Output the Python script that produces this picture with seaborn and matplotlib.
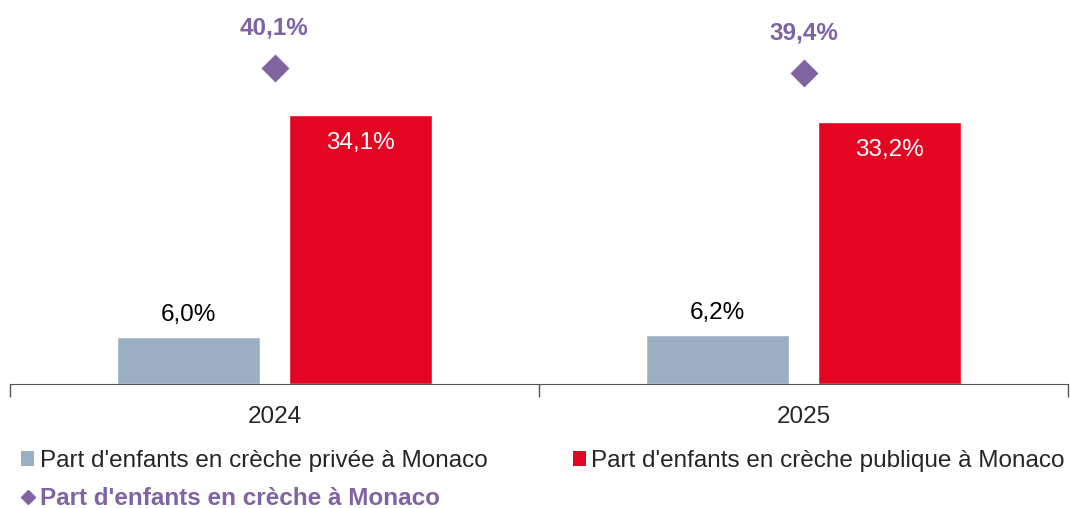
import pandas as pd
import numpy as np
import matplotlib.pyplot as plt
import seaborn as sns
from matplotlib.patches import Patch
from matplotlib.lines import Line2D

years = ['2024', '2025']
prive = [6.0, 6.2]
publique = [34.1, 33.2]
total = [40.1, 39.4]
lab_prive = "Part d'enfants en crèche privée à Monaco"
lab_pub = "Part d'enfants en crèche publique à Monaco"
lab_tot = "Part d'enfants en crèche à Monaco"

c_grey = '#9aafc1'
c_red = '#e30521'
c_purple = '#8064a2'

sns.set_style('white')
plt.rcParams['font.family'] = ['Liberation Sans', 'DejaVu Sans']
fs = 17.5

df = pd.DataFrame({'Année': years * 2,
                   'Valeur': prive + publique,
                   'Série': [lab_prive] * 2 + [lab_pub] * 2})

fig = plt.figure(figsize=(10.7, 5.08), dpi=100)
ax = fig.add_axes([10 / 1070, 1 - 384 / 508, 1058 / 1070, 355 / 508])
sns.barplot(data=df, x='Année', y='Valeur', hue='Série', palette=[c_grey, c_red],
            width=0.652, gap=0.17, ax=ax, legend=False, saturation=1)
sns.pointplot(x=years, y=total, linestyle='none', markers='D', color=c_purple,
              markersize=12, ax=ax)
ax.set_xlim(-0.5, 1.5)
ax.set_ylim(0, 45)
for s in ['top', 'right', 'left']:
    ax.spines[s].set_visible(False)
ax.spines['bottom'].set_color('#555555')
ax.set_yticks([])
ax.set_xlabel('')
ax.set_ylabel('')
ax.set_xticks([0, 1])
ax.set_xticklabels(years, fontsize=fs)
ax.tick_params(axis='x', which='major', length=0, pad=16)
ax.set_xticks([-0.5, 0.5, 1.5], minor=True)
ax.tick_params(axis='x', which='minor', bottom=True, length=9, width=1,
               color='#555555', direction='out')

for i in range(len(years)):
    ax.text(i - 0.163, prive[i] + 1.4, f"{prive[i]:.1f}%".replace('.', ','),
            ha='center', va='bottom', fontsize=fs, color='black')
    ax.text(i + 0.163, publique[i] - 2.2, f"{publique[i]:.1f}%".replace('.', ','),
            ha='center', va='top', fontsize=fs, color='white')
    ax.text(i, total[i] + 3.6, f"{total[i]:.1f}%".replace('.', ','),
            ha='center', va='bottom', fontsize=fs, color=c_purple, fontweight='bold')

handles = [Patch(facecolor=c_grey, edgecolor='none'),
           Line2D([], [], marker='D', color=c_purple, linestyle='none', markersize=7),
           Patch(facecolor=c_red, edgecolor='none')]
leg = fig.legend(handles, [lab_prive, lab_tot, lab_pub], ncol=2,
                 loc='upper left', bbox_to_anchor=(21 / 1070, 1 - 450 / 508),
                 frameon=False, fontsize=fs, handlelength=0.55, handleheight=0.55,
                 handletextpad=0.22, columnspacing=3.5, labelspacing=0.62,
                 borderaxespad=0, borderpad=0)
for t in leg.get_texts():
    if t.get_text() == lab_tot:
        t.set_color(c_purple)
        t.set_fontweight('bold')

fig.savefig('out.png', dpi=100)
